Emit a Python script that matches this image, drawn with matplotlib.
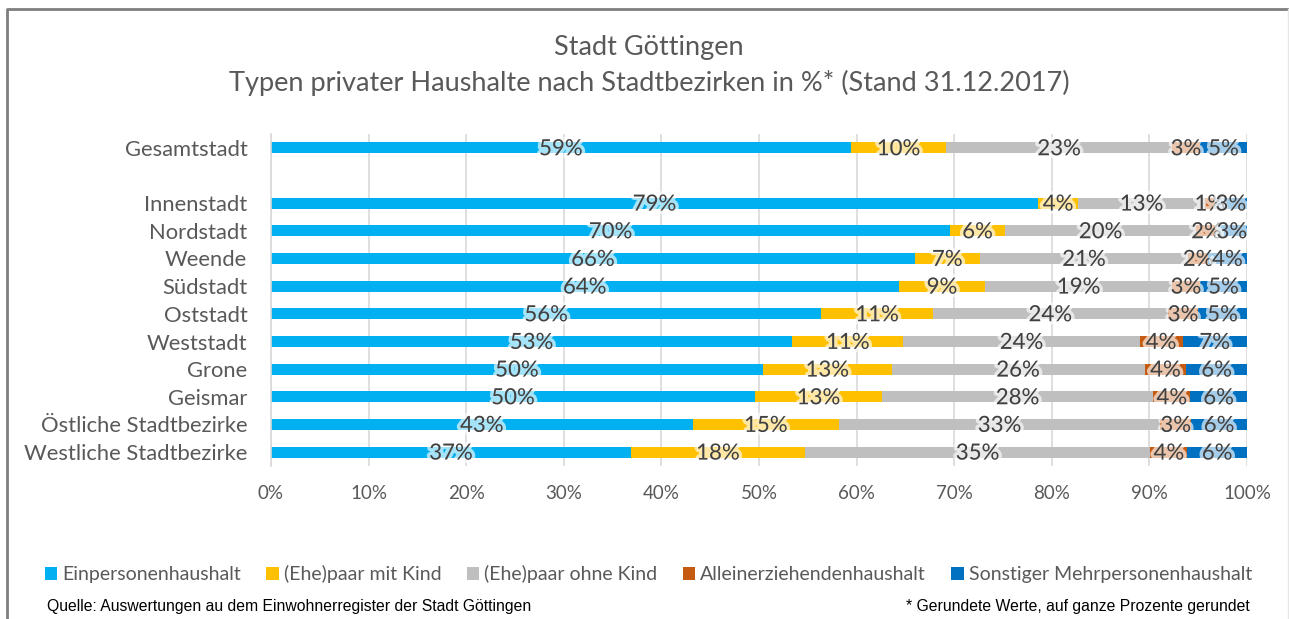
import numpy as np
import matplotlib
matplotlib.use("Agg")
import matplotlib.pyplot as plt
import matplotlib.patheffects as pe
from matplotlib.patches import Patch
from matplotlib.lines import Line2D

# data (% of households)
districts = ["Gesamtstadt", "", "Innenstadt", "Nordstadt", "Weende", "Südstadt",
             "Oststadt", "Weststadt", "Grone", "Geismar",
             "Östliche Stadtbezirke", "Westliche Stadtbezirke"]
einperson = [59.4, None, 78.6, 69.6, 66.0, 64.3, 56.4, 53.4, 50.4, 49.6, 43.2, 36.9]
paar_kind = [9.8, None, 4.1, 5.6, 6.6, 8.9, 11.4, 11.4, 13.2, 13.0, 15.0, 17.8]
paar_ohne = [23.1, None, 13.0, 19.6, 21.4, 19.1, 24.1, 24.2, 25.9, 27.8, 32.9, 35.4]
alleinerz = [2.9, None, 1.0, 2.1, 2.0, 2.9, 3.1, 4.4, 4.3, 3.8, 3.2, 3.8]
sonstige = [4.8, None, 3.3, 3.1, 4.0, 4.8, 5.0, 6.6, 6.2, 5.8, 5.7, 6.1]

series = ["Einpersonenhaushalt", "(Ehe)paar mit Kind", "(Ehe)paar ohne Kind",
          "Alleinerziehendenhaushalt", "Sonstiger Mehrpersonenhaushalt"]
colors = ["#00B0F0", "#FFC000", "#BFBFBF", "#C55A11", "#0070C0"]

FONT = "Lato"
TXT = "#595959"

fig = plt.figure(figsize=(12.89, 6.19), dpi=100)
ax = fig.add_axes([271 / 1289, 1 - 466 / 619, 976 / 1289, 332 / 619])

values = [einperson, paar_kind, paar_ohne, alleinerz, sonstige]
ypos = np.arange(len(districts))
glow = [pe.withStroke(linewidth=5, foreground="white", alpha=0.65)]

for i, y in enumerate(ypos):
    if einperson[i] is None:
        continue
    left = 0.0
    for s, col in zip(values, colors):
        v = s[i]
        ax.barh(y, v, left=left, height=0.4, color=col, zorder=2)
        ax.text(left + v / 2, y + 0.05, f"{v:.0f}%", ha="center", va="center",
                fontsize=16, color="#404040", family=FONT,
                path_effects=glow, zorder=3)
        left += v

ax.set_xlim(0, 100)
ax.set_ylim(len(districts) - 0.5, -0.5)
ax.set_xticks(np.arange(0, 101, 10))
ax.set_xticklabels([f"{t}%" for t in range(0, 101, 10)], family=FONT,
                   fontsize=13.5, color=TXT)
ax.set_yticks(ypos)
ax.set_yticklabels(districts, family=FONT, fontsize=15.8, color=TXT)
ax.tick_params(length=0)
ax.tick_params(axis="y", pad=17)
ax.tick_params(axis="x", pad=14)
ax.grid(axis="x", color="#D9D9D9", linewidth=1.2, zorder=0)
for side in ["top", "right", "bottom"]:
    ax.spines[side].set_visible(False)
ax.spines["left"].set_color("#D9D9D9")
ax.spines["left"].set_linewidth(1.2)

fig.text(0.5035, 1 - 47 / 619, "Stadt Göttingen", ha="center", va="center",
         fontsize=19.5, color=TXT, family=FONT)
fig.text(0.5035, 1 - 83 / 619,
         "Typen privater Haushalte nach Stadtbezirken in %* (Stand 31.12.2017)",
         ha="center", va="center", fontsize=19.5, color=TXT, family=FONT)

handles = [Patch(facecolor=c, edgecolor="none") for c in colors]
leg = fig.legend(handles, series, loc="center", ncol=5,
                 bbox_to_anchor=(0.503, 1 - 574 / 619), frameon=False,
                 handlelength=0.65, handleheight=0.65, handletextpad=0.25,
                 columnspacing=1.3, prop={"family": FONT, "size": 14})
for t in leg.get_texts():
    t.set_color(TXT)

fig.text(47 / 1289, 1 - 607 / 619,
         "Quelle: Auswertungen au dem Einwohnerregister der Stadt Göttingen",
         ha="left", va="center", fontsize=11.3, family="Liberation Sans")
fig.text(1250 / 1289, 1 - 607 / 619,
         "* Gerundete Werte, auf ganze Prozente gerundet",
         ha="right", va="center", fontsize=11.3, family="Liberation Sans")

# outer frame: dark top and left edge, faint right edge
fx0, fx1, fy1 = 7 / 1289, 1287.5 / 1289, 1 - 9 / 619
fig.add_artist(Line2D([fx0, fx0, fx1], [0, fy1, fy1], transform=fig.transFigure,
                      color="#7F7F7F", linewidth=2))
fig.add_artist(Line2D([fx1, fx1], [fy1, 0], transform=fig.transFigure,
                      color="#E6E6E6", linewidth=1))

fig.savefig("out.png", dpi=100, facecolor="white")
